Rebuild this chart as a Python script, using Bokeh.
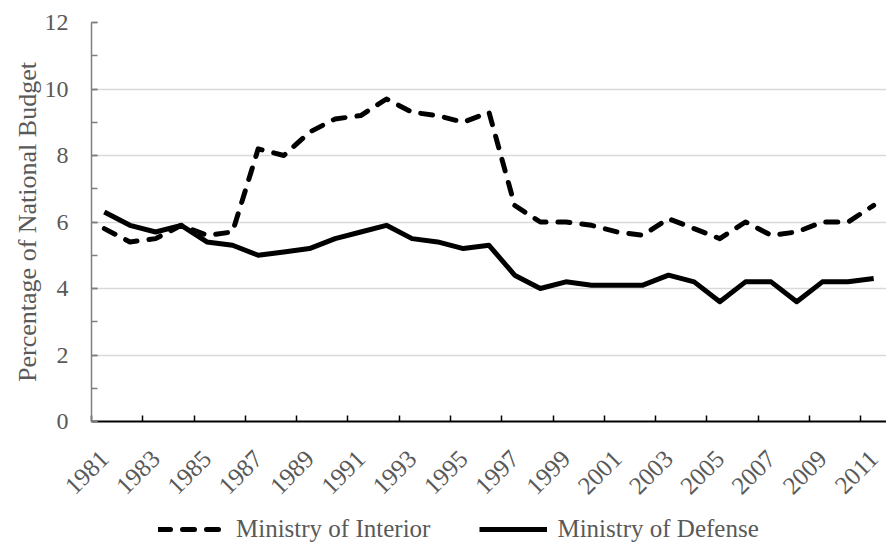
from bokeh.plotting import figure
from bokeh.models import FixedTicker, Legend, LegendItem, Range1d
from bokeh.layouts import column
from bokeh.embed import file_html
from bokeh.resources import INLINE

years = list(range(1981, 2012))
interior = [5.8, 5.4, 5.5, 5.9, 5.6, 5.7, 8.2, 8.0, 8.7, 9.1, 9.2, 9.7, 9.3, 9.2, 9.0, 9.3,
            6.5, 6.0, 6.0, 5.9, 5.7, 5.6, 6.1, 5.8, 5.5, 6.0, 5.6, 5.7, 6.0, 6.0, 6.5]
defense = [6.3, 5.9, 5.7, 5.9, 5.4, 5.3, 5.0, 5.1, 5.2, 5.5, 5.7, 5.9, 5.5, 5.4, 5.2, 5.3,
           4.4, 4.0, 4.2, 4.1, 4.1, 4.1, 4.4, 4.2, 3.6, 4.2, 4.2, 3.6, 4.2, 4.2, 4.3]
label_years = years[::2]
y_major = [0, 2, 4, 6, 8, 10, 12]
y_minor = list(range(0, 13))
y_title = "Percentage of National Budget"
series_names = ["Ministry of Interior", "Ministry of Defense"]

FONT = "Liberation Serif"
GRAY = "#595959"

interior_style = dict(line_color="black", line_width=5, line_dash="12 12",
                      line_cap="round", line_join="round")
defense_style = dict(line_color="black", line_width=5, line_join="round")

p = figure(width=886, height=504, output_backend="svg", toolbar_location=None,
           x_range=Range1d(1980.5, 2011.5), y_range=Range1d(0, 12),
           min_border_left=91, min_border_right=0, min_border_top=22, min_border_bottom=83)
p.outline_line_color = None
p.background_fill_color = "white"
p.border_fill_color = "white"

p.line(years, interior, **interior_style)
p.line(years, defense, **defense_style)

# x axis
xa = p.xaxis[0]
xa.ticker = FixedTicker(ticks=label_years, minor_ticks=[y - 0.5 for y in years[::2]])
xa.major_tick_line_color = None
xa.minor_tick_in = 6
xa.minor_tick_out = 0
xa.minor_tick_line_color = "black"
xa.minor_tick_line_width = 1.5
xa.axis_line_color = "black"
xa.axis_line_width = 2
xa.major_label_orientation = 0.785398
xa.major_label_standoff = 27
xa.major_label_text_font = FONT
xa.major_label_text_font_size = "25px"
xa.major_label_text_color = GRAY

# y axis
ya = p.yaxis[0]
ya.ticker = FixedTicker(ticks=y_major, minor_ticks=y_minor)
ya.major_tick_in = 6
ya.major_tick_out = 0
ya.minor_tick_in = 6
ya.minor_tick_out = 0
ya.major_tick_line_color = "#7f7f7f"
ya.minor_tick_line_color = "#7f7f7f"
ya.major_tick_line_width = 1.5
ya.minor_tick_line_width = 1.5
ya.axis_line_color = "#7f7f7f"
ya.axis_line_width = 1.5
ya.major_label_standoff = 23
ya.major_label_text_font = FONT
ya.major_label_text_font_size = "24px"
ya.major_label_text_color = GRAY
ya.axis_label = y_title
ya.axis_label_text_font = FONT
ya.axis_label_text_font_size = "26px"
ya.axis_label_text_font_style = "normal"
ya.axis_label_text_color = GRAY
ya.axis_label_standoff = 0

p.xgrid.visible = False
p.ygrid.ticker = FixedTicker(ticks=y_major[1:])
p.ygrid.grid_line_color = "#d9d9d9"
p.ygrid.grid_line_width = 1.5

# legend strip (its own small figure; the series here lie outside its ranges)
pl = figure(width=886, height=39, output_backend="svg", toolbar_location=None,
            x_range=Range1d(0, 1), y_range=Range1d(0, 1),
            x_axis_type=None, y_axis_type=None, min_border=0)
pl.outline_line_color = None
pl.grid.visible = False
g1 = pl.line(years, interior, **interior_style)
g2 = pl.line(years, defense, **defense_style)

legend = Legend(items=[LegendItem(label=series_names[0], renderers=[g1]),
                       LegendItem(label=series_names[1], renderers=[g2])],
                orientation="horizontal", location=(67, 0),
                glyph_width=68, glyph_height=28, label_standoff=10, spacing=49,
                padding=0, margin=0, border_line_color=None, background_fill_alpha=0,
                label_text_font=FONT, label_text_font_size="25px", label_text_color=GRAY)
pl.add_layout(legend, "center")

open("out.html", "w").write(file_html(column(p, pl, spacing=0), INLINE))
